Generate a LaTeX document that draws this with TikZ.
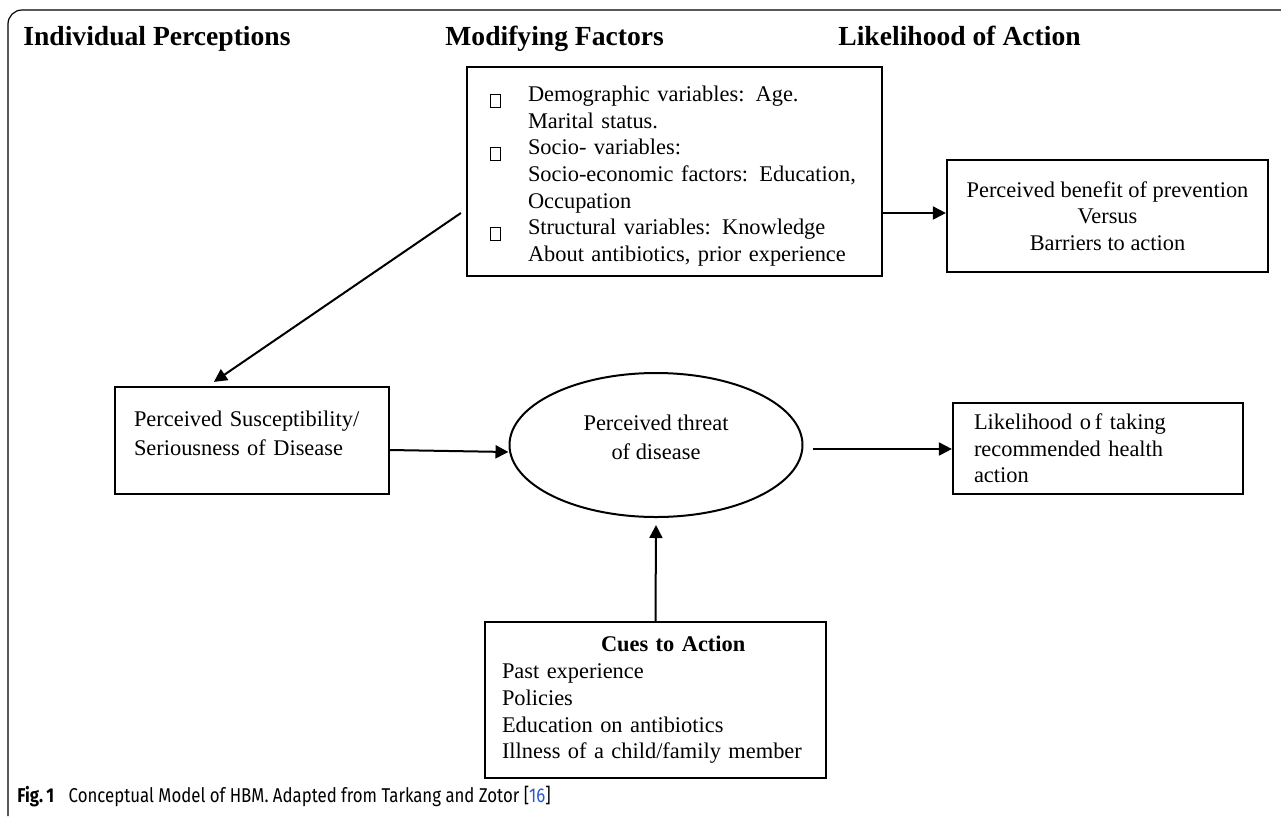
\documentclass[tikz,border=0pt]{standalone}
\usepackage{fontspec}
\setmainfont{Liberation Serif}
\newfontfamily\capfont[FakeStretch=0.84]{Fira Sans}
\usetikzlibrary{arrows.meta,calc,shapes.geometric}

\definecolor{reflink}{RGB}{40,90,200}

% empty square used as bullet
\newcommand{\sqmark}{\raisebox{-2.5pt}{\setlength{\fboxsep}{0pt}\setlength{\fboxrule}{0.5pt}\fbox{\rule{0pt}{6pt}\hspace{4.5pt}}}}

\begin{document}
\begin{tikzpicture}[x=0.5pt,y=-0.5pt]

  \useasboundingbox (0,0) rectangle (1281,816);

  % node styles
  \tikzstyle{Box}=[
  draw,
  line width=1.1pt,
  shape=rectangle,
  inner sep=0pt,
  font=\fontsize{11.2}{13.3}\selectfont]

  \tikzstyle{Head}=[anchor=base west,inner sep=0pt,font=\fontsize{13.8}{16}\selectfont\bfseries]

  \tikzstyle{Arrow}=[line width=1pt,-{Triangle[length=6.5pt,width=6.5pt]}]

  % frame
  \draw[line width=0.6pt,rounded corners=7pt] (8,816) -- (8,10) -- (1281,10);

  % headings
  \node[Head] (HI) at (23,45)  {Individual Perceptions};
  \node[Head] (HM) at (445,45) {Modifying Factors};
  \node[Head] (HL) at (838,45) {Likelihood of Action};

  \node[Box,minimum width=207.5pt,minimum height=104.5pt,text width=184.5pt,
        inner xsep=11.5pt,align=left] (MOD) at (674.5,171.5)
  {\makebox[19pt][l]{\sqmark}Demographic variables: Age.\rule{0pt}{12.4pt}\\
   \hspace*{19pt}Marital status.\\
   \makebox[19pt][l]{\sqmark}Socio- variables:\\
   \hspace*{19pt}Socio-economic factors: Education,\\
   \hspace*{19pt}Occupation\\
   \makebox[19pt][l]{\sqmark}Structural variables: Knowledge\\
   \hspace*{19pt}About antibiotics, prior experience};

  \node[Box,minimum width=160.5pt,minimum height=56pt,align=center] (BEN) at (1107.5,216)
  {Perceived benefit of prevention\\Versus\\Barriers to action};

  \node[Box,minimum width=137pt,minimum height=53.5pt,text width=118pt,inner xsep=9.5pt,
        align=left,font=\fontsize{11.2}{14.5}\selectfont] (SUS) at (252,440.5)
  {Perceived Susceptibility/\\Seriousness of Disease\rule[-7.6pt]{0pt}{0pt}};

  \node[draw,ellipse,line width=1pt,minimum width=146.5pt,minimum height=72pt,inner sep=0pt,
        align=center,font=\fontsize{11.2}{14.5}\selectfont] (THR) at (656,445)
  {Perceived threat\\of disease\rule[-7.5pt]{0pt}{0pt}};

  \node[Box,minimum width=145pt,minimum height=45.5pt,text width=124pt,inner xsep=10.5pt,
        align=left] (LIK) at (1098,448.5)
  {Likelihood o\kern2pt f taking\\recommended health\\action};

  \node[Box,minimum width=170.5pt,minimum height=78pt,text width=153.5pt,inner xsep=8.5pt,
        align=left,font=\fontsize{11.2}{13.4}\selectfont] (CUE) at (655.5,700)
  {\hspace*{49.5pt}\textbf{Cues to Action}\\
   Past experience\\
   Policies\\
   Education on antibiotics\\
   Illness of a child/family member};

  % arrows
  \draw[Arrow] ($(MOD.west)+(-5,41.5)$) -- ($(SUS.north west)+(100,-4)$);
  \draw[Arrow] ($(MOD.east)+(0,41.5)$) -- ($(BEN.west)+(0,-3)$);
  \draw[Arrow] ($(SUS.east)+(0,9.5)$) -- ($(THR.west)+(0,7)$);
  \draw[Arrow] ($(THR.east)+(9,4)$) -- ($(LIK.west)+(0,0.5)$);
  \draw[Arrow] (CUE.north) -- ($(THR.south)+(0,7)$);

  % caption
  \node[anchor=base west,inner sep=0pt,font=\capfont\fontsize{10}{12}\selectfont] (CAP) at (17,802)
  {\textbf{Fig.\,1}\hspace{5pt} Conceptual Model of HBM. Adapted from Tarkang and Zotor [\textcolor{reflink}{16}]};

\end{tikzpicture}
\end{document}
